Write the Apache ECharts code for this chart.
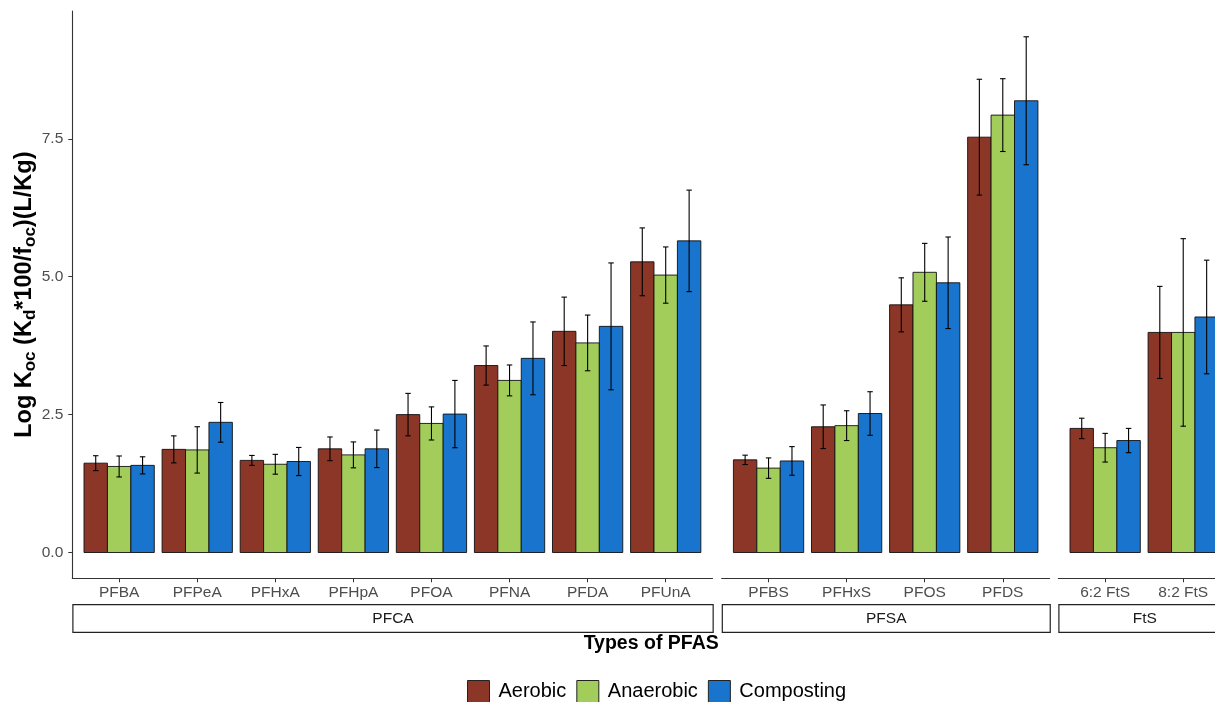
<!DOCTYPE html>
<html>
<head>
<meta charset="utf-8">
<script src="https://cdn.jsdelivr.net/npm/echarts@6/dist/echarts.min.js"></script>
<style>html,body{margin:0;padding:0;background:#fff;}#chart{width:1215px;height:702px;}</style>
</head>
<body>
<div id="chart"></div>
<script>
// ---------------- data ----------------
const groups = ['Aerobic', 'Anaerobic', 'Composting'];
const panelNames = ['PFCA', 'PFSA', 'FtS'];
const pfcaCats = ['PFBA', 'PFPeA', 'PFHxA', 'PFHpA', 'PFOA', 'PFNA', 'PFDA', 'PFUnA'];
const pfsaCats = ['PFBS', 'PFHxS', 'PFOS', 'PFDS'];
const ftsCats = ['6:2 FtS', '8:2 FtS'];
const yTicks = [0, 2.5, 5, 7.5];

// means (Log Koc)
const aerobicMean    = [1.62, 1.87, 1.67, 1.88, 2.50, 3.39, 4.01, 5.27,  1.68, 2.28, 4.49, 7.53,  2.25, 3.99];
const anaerobicMean  = [1.56, 1.86, 1.60, 1.77, 2.34, 3.12, 3.80, 5.03,  1.53, 2.30, 5.08, 7.93,  1.90, 3.99];
const compostingMean = [1.58, 2.36, 1.65, 1.88, 2.51, 3.52, 4.10, 5.65,  1.66, 2.52, 4.89, 8.19,  2.03, 4.27];
// error bar half-widths
const aerobicErr     = [0.135, 0.245, 0.09, 0.215, 0.385, 0.355, 0.62, 0.615,  0.085, 0.395, 0.49, 1.05,  0.185, 0.835];
const anaerobicErr   = [0.19, 0.42, 0.18, 0.235, 0.30, 0.28, 0.505, 0.51,  0.185, 0.27, 0.525, 0.66,  0.26, 1.70];
const compostingErr  = [0.155, 0.36, 0.255, 0.34, 0.61, 0.66, 1.15, 0.92,  0.26, 0.395, 0.83, 1.16,  0.22, 1.03];

// ---------------- layout / style ----------------
const colors = ['#8B3626', '#A2CD5A', '#1874CD'];
const panelCats = [pfcaCats, pfsaCats, ftsCats];
const means = [aerobicMean, anaerobicMean, compostingMean];
const errs = [aerobicErr, anaerobicErr, compostingErr];

const UNIT = 78.08;
const EXPAND = 0.6;
const PANEL_TOP = 11;
const PANEL_BOTTOM = 578.3;
const panelLefts = [72.3, 721.7, 1058.3];
const BAR_W = 0.3;
const CAP = 0.035;

let maxTop = 0;
for (let g = 0; g < 3; g++) for (let i = 0; i < means[g].length; i++) maxTop = Math.max(maxTop, means[g][i] + errs[g][i]);
const yMin = -0.05 * maxTop;
const yMax = maxTop * 1.05;

const FONT = '"Liberation Sans", Arial, sans-serif';

const grids = [], xAxes = [], yAxes = [], series = [], graphics = [];
let offset = 0;
panelCats.forEach((cats, p) => {
  const n = cats.length;
  const width = (n - 1 + 2 * EXPAND) * UNIT;
  grids.push({ left: panelLefts[p], top: PANEL_TOP, width: width, height: PANEL_BOTTOM - PANEL_TOP,
    containLabel: false, outerBoundsMode: 'none' });
  const idx = cats.map((c, i) => i);
  xAxes.push({
    type: 'value', gridIndex: p, min: -EXPAND, max: n - 1 + EXPAND,
    splitLine: { show: false },
    axisLine: { show: true, onZero: false, lineStyle: { color: '#333', width: 1.1 } },
    axisTick: { show: true, customValues: idx, length: 4, lineStyle: { color: '#333', width: 1 } },
    axisLabel: { show: true, customValues: idx, margin: 6, color: '#4D4D4D', fontSize: 15.5, fontFamily: FONT,
      formatter: v => cats[Math.round(v)] }
  });
  const yAx = {
    type: 'value', gridIndex: p, min: yMin, max: yMax,
    splitLine: { show: false },
    axisLine: { show: p === 0, onZero: false, lineStyle: { color: '#333', width: 1.1 } },
    axisTick: { show: p === 0, customValues: yTicks, length: 4, lineStyle: { color: '#333', width: 1 } },
    axisLabel: { show: p === 0, customValues: yTicks, margin: 9, color: '#4D4D4D', fontSize: 15.5, fontFamily: FONT,
      formatter: v => v.toFixed(1) }
  };
  if (p === 0) {
    yAx.name = '{b|Log K}{s|oc}{b| (K}{s|d}{b|*100/f}{s|oc}{b|)(L/Kg)}';
    yAx.nameLocation = 'middle';
    yAx.nameGap = 33;
    yAx.nameMoveOverlap = false;
    yAx.nameRotate = 90;
    yAx.nameTextStyle = {
      fontFamily: FONT,
      rich: {
        b: { fontSize: 23.5, fontWeight: 'bold', color: '#000', fontFamily: FONT, lineHeight: 30, verticalAlign: 'middle' },
        s: { fontSize: 17, fontWeight: 'bold', color: '#000', fontFamily: FONT, lineHeight: 17, verticalAlign: 'bottom' }
      }
    };
  }
  yAxes.push(yAx);

  groups.forEach((gname, g) => {
    const data = cats.map((c, i) => [i, means[g][offset + i], errs[g][offset + i]]);
    series.push({
      type: 'custom', name: gname, xAxisIndex: p, yAxisIndex: p,
      itemStyle: { color: colors[g], borderColor: '#000', borderWidth: 1 },
      clip: false,
      data: data,
      renderItem: (params, api) => {
        const ci = api.value(0), v = api.value(1), sd = api.value(2);
        const xc = ci + (g - 1) * BAR_W;
        const p0 = api.coord([xc - BAR_W / 2, 0]);
        const p1 = api.coord([xc + BAR_W / 2, v]);
        const t = api.coord([xc, v + sd]);
        const b = api.coord([xc, v - sd]);
        const cl = api.coord([xc - CAP, 0])[0];
        const cr = api.coord([xc + CAP, 0])[0];
        return {
          type: 'group',
          children: [
            { type: 'rect', shape: { x: p0[0], y: p1[1], width: p1[0] - p0[0], height: p0[1] - p1[1] },
              style: { fill: colors[g], stroke: '#111', lineWidth: 0.9 } },
            { type: 'line', z2: 10, shape: { x1: t[0], y1: t[1], x2: b[0], y2: b[1] }, style: { stroke: '#000', lineWidth: 1.1 } },
            { type: 'line', z2: 10, shape: { x1: cl, y1: t[1], x2: cr, y2: t[1] }, style: { stroke: '#000', lineWidth: 1.1 } },
            { type: 'line', z2: 10, shape: { x1: cl, y1: b[1], x2: cr, y2: b[1] }, style: { stroke: '#000', lineWidth: 1.1 } }
          ]
        };
      }
    });
  });

  // facet strip
  graphics.push({
    type: 'group', left: panelLefts[p], top: 604,
    children: [
      { type: 'rect', shape: { x: 0, y: 0, width: width, height: 27.7 }, style: { fill: '#fff', stroke: '#222', lineWidth: 1.2 } },
      { type: 'text', x: width / 2, y: 14, style: { text: panelNames[p], fill: '#1A1A1A', fontSize: 15.5, fontFamily: FONT, align: 'center', verticalAlign: 'middle' } }
    ]
  });
  offset += n;
});

const fullLeft = panelLefts[0];
const fullRight = panelLefts[2] + (ftsCats.length - 1 + 2 * EXPAND) * UNIT;
graphics.push({
  type: 'text', x: (fullLeft + fullRight) / 2, y: 644,
  style: { text: 'Types of PFAS', fill: '#000', fontSize: 19.5, fontWeight: 'bold', fontFamily: FONT, align: 'center', verticalAlign: 'middle' }
});

const chart = echarts.init(document.getElementById('chart'), null, { renderer: 'canvas' });
chart.setOption({
  animation: false,
  backgroundColor: '#fff',
  grid: grids,
  xAxis: xAxes,
  yAxis: yAxes,
  legend: {
    data: groups.map((g, i) => ({ name: g, icon: 'rect', itemStyle: { color: colors[i], borderColor: '#222', borderWidth: 1 } })),
    left: 467, top: 680, padding: 0,
    itemWidth: 22, itemHeight: 22, itemGap: 10,
    selectedMode: false,
    textStyle: { fontSize: 20, color: '#000', fontFamily: FONT, padding: [0, 0, 0, 4] }
  },
  graphic: graphics,
  series: series
});
</script>
</body>
</html>
